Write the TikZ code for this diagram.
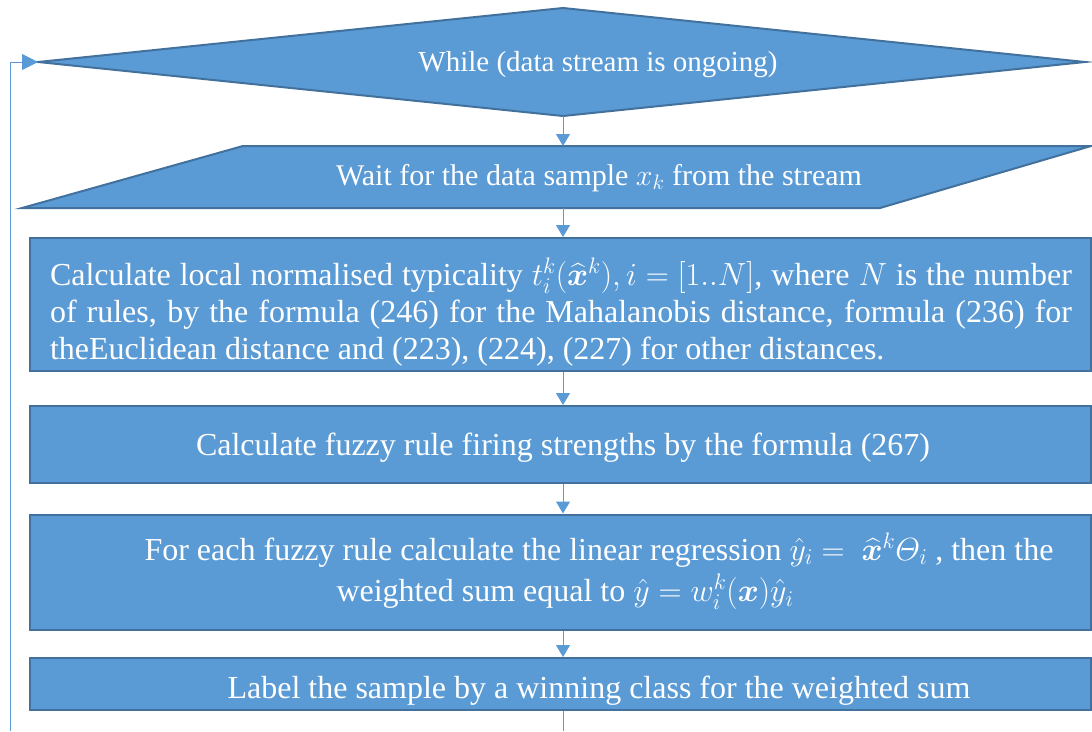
\documentclass[tikz,border=0pt]{standalone}
\usepackage{fix-cm}
\usepackage{amsmath,bm}
\usepackage{fontspec}
\setmainfont{Liberation Serif}
\usetikzlibrary{arrows.meta,calc}
\definecolor{bfill}{HTML}{5B9BD5}
\definecolor{bdraw}{HTML}{41719C}
\thickmuskip=5mu
\medmuskip=4mu
\begin{document}
\begin{tikzpicture}[x=1pt,y=-1pt,
  shp/.style={fill=bfill,draw=bdraw,line width=2pt,line join=miter},
  box/.style={shp,rectangle,inner sep=0pt},
  txt/.style={text=white,inner sep=0pt,font=\fontsize{32}{37}\selectfont},
  conn/.style={draw=bfill,line width=1pt,-{Triangle[width=14pt,length=12pt]}},
  plain/.style={draw=bfill,line width=1pt}]
\useasboundingbox (0,0) rectangle (1092,731);
% diamond
\coordinate (dl) at (38,62);
\coordinate (dt) at (563,8);
\coordinate (dr) at (1085,62);
\coordinate (db) at (563,116);
\draw[shp] (dl) -- (dt) -- (dr) -- (db) -- cycle;
\node[txt,font=\fontsize{29}{33}\selectfont] (t1) at (598,65) {While (data stream is ongoing)};
% parallelogram
\coordinate (ptl) at (243,146);
\coordinate (ptr) at (1091,146);
\coordinate (pbr) at (880,208);
\coordinate (pbl) at (22,208);
\coordinate (pt) at (563,146);
\coordinate (pb) at (563,208);
\draw[shp] (ptl) -- (ptr) -- (pbr) -- (pbl) -- cycle;
\node[txt,font=\fontsize{30}{34}\selectfont] (t2) at (599,178) {Wait for the data sample $x_k$ from the stream};
% box 3
\node[box,minimum width=1061pt,minimum height=133pt] (b3) at (560.5,304.5) {};
\node[txt,text width=1022pt,align=justify] (t3) at (561,312) {Calculate local normalised typicality $t_i^k(\widehat{\bm{x}}^k), i=[1..N]$, where $N$ is the number\linebreak of rules, by the formula (246) for the Mahalanobis distance, formula (236) for\linebreak theEuclidean distance and (223), (224), (227) for other distances.};
% box 4
\node[box,minimum width=1061pt,minimum height=77pt] (b4) at (560.5,444.5) {};
\node[txt] (t4) at (563,448) {Calculate fuzzy rule firing strengths by the formula (267)};
% box 5
\node[box,minimum width=1061pt,minimum height=115pt] (b5) at (560.5,572) {};
\node[txt] (t5a) at (599,550) {For each fuzzy rule calculate the linear regression $\hat{y}_i =\ \widehat{\bm{x}}^k\varTheta_i$ , then the};
\node[txt] (t5b) at (565,592) {weighted sum equal to $\hat{y} = w_i^k(\bm{x})\hat{y}_i$};
% box 6
\node[box,minimum width=1061pt,minimum height=52pt] (b6) at (560.5,684) {};
\node[txt] (t6) at (599,691) {Label the sample by a winning class for the weighted sum};
% connectors
\coordinate (ax) at (563,0);
\coordinate (bend) at (563,731);
\coordinate (lb) at (10,731);
\coordinate (lt) at (10,62);
\draw[conn] (db) -- (pt);
\draw[conn] (pb) -- (b3.north -| ax);
\draw[conn] (b3.south -| ax) -- (b4.north -| ax);
\draw[conn] (b4.south -| ax) -- (b5.north -| ax);
\draw[conn] (b5.south -| ax) -- (b6.north -| ax);
\draw[plain] (b6.south -| ax) -- (bend);
\draw[draw=bfill,line width=1pt,-{Triangle[width=16pt,length=16pt]}] (lb) -- (lt) -- (dl);
\end{tikzpicture}
\end{document}
